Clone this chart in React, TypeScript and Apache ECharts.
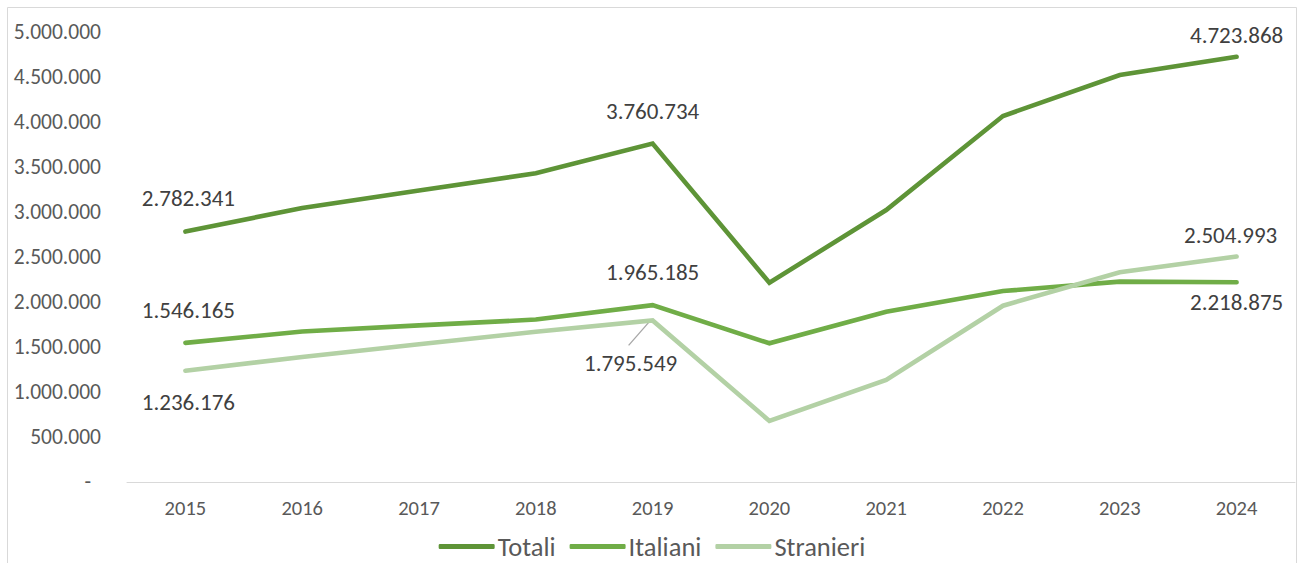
import React, { useEffect, useRef } from "react";
import * as echarts from "echarts";

const years = ["2015", "2016", "2017", "2018", "2019", "2020", "2021", "2022", "2023", "2024"];
const totali = [2782341, 3045000, 3240000, 3430000, 3760734, 2214000, 3022000, 4067000, 4522000, 4723868];
const italiani = [1546165, 1672000, 1740000, 1805000, 1965185, 1541000, 1892000, 2122000, 2226000, 2218875];
const stranieri = [1236176, 1389000, 1530000, 1670000, 1795549, 678000, 1133000, 1959000, 2330000, 2504993];
const yTicks = { min: 0, max: 5000000, interval: 500000 };

const FONT = "Carlito, Lato, 'Open Sans', sans-serif";

function fmt(v: number): string {
  return Math.round(v).toString().replace(/\B(?=(\d{3})+(?!\d))/g, ".");
}

type LabelCfg = { position: "top" | "bottom"; distance: number; dx?: number };

function buildData(values: number[], labels: Record<number, LabelCfg>) {
  return values.map((v, i) => {
    const cfg = labels[i];
    if (!cfg) return v;
    return {
      value: v,
      label: {
        show: true,
        position: cfg.position,
        distance: cfg.distance,
        formatter: (p: any) => fmt(p.value),
        color: "#404040",
        fontSize: 23,
        fontFamily: FONT,
      },
    };
  });
}

export default function App() {
  const ref = useRef<HTMLDivElement>(null);
  useEffect(() => {
    if (!ref.current) return;
    const chart = echarts.init(ref.current, undefined, { renderer: "svg" });
    const lineSeries = (name: string, color: string, values: number[], labels: Record<number, LabelCfg>) => ({
      name,
      type: "line",
      data: buildData(values, labels),
      showSymbol: true,
      symbol: "circle",
      symbolSize: 0,
      lineStyle: { color, width: 4.6, cap: "round", join: "miter" },
      itemStyle: { color },
      label: { show: false },
      labelLayout: (params: any) => {
        const cfg = labels[params.dataIndex];
        return { hideOverlap: false, dx: cfg && cfg.dx ? cfg.dx : 0 };
      },
      emphasis: { disabled: true },
    });
    chart.setOption({
      animation: false,
      backgroundColor: "#ffffff",
      grid: { left: 127, right: 9, top: 32, bottom: 81, containLabel: false },
      legend: {
        top: 528,
        left: "center",
        icon: "roundRect",
        itemWidth: 56,
        itemHeight: 5,
        itemGap: 14,
        textStyle: { color: "#595959", fontSize: 26.5, fontFamily: FONT, padding: [0, 0, 0, -2] },
        data: ["Totali", "Italiani", "Stranieri"],
      },
      xAxis: {
        type: "category",
        data: years,
        boundaryGap: true,
        axisLine: { show: true, lineStyle: { color: "#D9D9D9", width: 1 } },
        axisTick: { show: false },
        axisLabel: { color: "#595959", fontSize: 20.5, fontFamily: FONT, margin: 15 },
      },
      yAxis: {
        type: "value",
        min: yTicks.min,
        max: yTicks.max,
        interval: yTicks.interval,
        axisLine: { show: false },
        axisTick: { show: false },
        splitLine: { show: false },
        axisLabel: {
          color: "#595959",
          fontSize: 21.5,
          fontFamily: FONT,
          margin: 26,
          formatter: (v: number) => (v === 0 ? "{d|-}" : fmt(v)),
          rich: { d: { color: "#595959", fontSize: 21.5, fontFamily: FONT, padding: [0, 10, 0, 0] } },
        },
      },
      series: [
        lineSeries("Totali", "#5E9437", totali, {
          0: { position: "top", distance: 22, dx: 3 },
          4: { position: "top", distance: 21 },
          9: { position: "top", distance: 10 },
        }),
        lineSeries("Italiani", "#70AD47", italiani, {
          0: { position: "top", distance: 21, dx: 3 },
          4: { position: "top", distance: 22 },
          9: { position: "bottom", distance: 8 },
        }),
        lineSeries("Stranieri", "#B3D1A5", stranieri, {
          0: { position: "bottom", distance: 20, dx: 3 },
          4: { position: "bottom", distance: 31, dx: -22 },
          9: { position: "top", distance: 10, dx: -6 },
        }),
      ],
    });
    const p = chart.convertToPixel({ seriesIndex: 2 }, [4, stranieri[4]]) as number[];
    chart.setOption({
      graphic: [
        {
          type: "rect",
          shape: { x: 7.5, y: 7.5, width: 1289, height: 620 },
          style: { fill: "none", stroke: "#D9D9D9", lineWidth: 1 },
          silent: true,
        },
        {
          type: "line",
          shape: { x1: p[0] - 3, y1: p[1] + 1, x2: p[0] - 24, y2: p[1] + 25 },
          style: { stroke: "#A6A6A6", lineWidth: 1.3 },
          silent: true,
        },
      ],
    });
    return () => chart.dispose();
  }, []);
  return (
    <div
      ref={ref}
      style={{ position: "fixed", left: 0, top: 0, width: 1304, height: 563, background: "#fff" }}
    />
  );
}
